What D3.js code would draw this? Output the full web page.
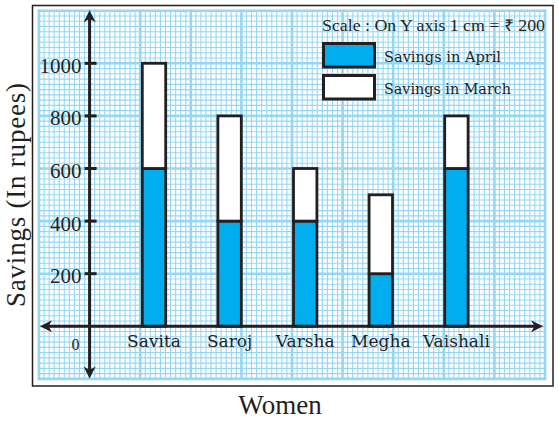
<!DOCTYPE html>
<html><head><meta charset="utf-8">
<script src="https://cdn.jsdelivr.net/npm/d3@7"></script>
<style>body{margin:0;background:#fff}svg{display:block}</style>
</head><body>
<svg id="c" width="559" height="424"></svg>
<script>
// ---- data ----
const categories = ["Savita", "Saroj", "Varsha", "Megha", "Vaishali"];
const aprilSavings = [600, 400, 400, 200, 600];
const marchSavings = [400, 400, 200, 300, 200];
const yTicks = [200, 400, 600, 800, 1000];
const seriesNames = ["Savings in April", "Savings in March"];
const scaleNote = "Scale : On Y axis 1 cm = \u20B9 200";
const xTitle = "Women";
const yTitle = "Savings (In rupees)";

// ---- setup ----
const svg = d3.select("#c");
const ink = "#231f20", blue = "#00aeef", gridC = "#93d7f5";
const y = d3.scaleLinear().domain([0, 1000]).range([326.3, 63.3]);
const gx = d3.scaleLinear().domain([0, 100]).range([39, 545]);
const xs = d3.scalePoint().domain(categories).range([154, 456.4]);
const bw = 23.4;

// outer frame
svg.append("rect").attr("x", 32.5).attr("y", 5.5).attr("width", 520.5).attr("height", 380.5)
  .attr("fill", "#fff").attr("stroke", ink).attr("stroke-width", 1.5);

// graph paper grid
const g = svg.append("g");
const hVals = d3.range(-200, 1201, 20);
const vVals = d3.range(0, 101, 1);
const yTop = y(1200), yBot = y(-200);
g.selectAll(".hm").data(hVals.filter(v => v % 200 !== 0)).join("line")
  .attr("x1", gx(0)).attr("x2", gx(100)).attr("y1", d => y(d)).attr("y2", d => y(d))
  .attr("stroke", gridC).attr("stroke-width", 1.1);
g.selectAll(".vm").data(vVals.filter(v => v % 10 !== 0)).join("line")
  .attr("y1", yTop).attr("y2", yBot).attr("x1", d => gx(d)).attr("x2", d => gx(d))
  .attr("stroke", gridC).attr("stroke-width", 1.1);
g.selectAll(".hM").data(hVals.filter(v => v % 200 === 0)).join("line")
  .attr("x1", gx(0) - 1.2).attr("x2", gx(100) + 1.2).attr("y1", d => y(d)).attr("y2", d => y(d))
  .attr("stroke", gridC).attr("stroke-width", 2.6);
g.selectAll(".vM").data(vVals.filter(v => v % 10 === 0)).join("line")
  .attr("y1", yTop - 1.2).attr("y2", yBot + 1.2).attr("x1", d => gx(d)).attr("x2", d => gx(d))
  .attr("stroke", gridC).attr("stroke-width", 2.6);

// bars
const rows = categories.map((c, i) => ({ c, a: aprilSavings[i], m: marchSavings[i] }));
svg.selectAll(".barA").data(rows).join("rect")
  .attr("x", d => xs(d.c) - bw / 2).attr("width", bw)
  .attr("y", d => y(d.a)).attr("height", d => y(0) - y(d.a))
  .attr("fill", blue).attr("stroke", ink).attr("stroke-width", 2.8);
svg.selectAll(".barM").data(rows).join("rect")
  .attr("x", d => xs(d.c) - bw / 2).attr("width", bw)
  .attr("y", d => y(d.a + d.m)).attr("height", d => y(d.a) - y(d.a + d.m))
  .attr("fill", "#fff").attr("stroke", ink).attr("stroke-width", 2.8);

// axes
const ax = gx(10);
svg.append("line").attr("x1", ax).attr("x2", ax).attr("y1", yTop + 8).attr("y2", yBot - 8)
  .attr("stroke", ink).attr("stroke-width", 3);
svg.append("line").attr("x1", gx(0) + 8).attr("x2", gx(100) - 10).attr("y1", y(0)).attr("y2", y(0))
  .attr("stroke", ink).attr("stroke-width", 3);
function arrow(tx, ty, dx, dy) {
  const L = 12, W = 6, N = 3.5;
  const px = -dy, py = dx;
  const bx = tx - dx * L, by = ty - dy * L;
  const nx = tx - dx * (L - N), ny = ty - dy * (L - N);
  return `M${tx},${ty}L${bx + px * W},${by + py * W}L${nx},${ny}L${bx - px * W},${by - py * W}Z`;
}
const arrows = [[ax, yTop - 0.5, 0, -1], [ax, yBot - 0.5, 0, 1], [gx(0) + 1, y(0), -1, 0], [gx(100) - 2, y(0), 1, 0]];
svg.selectAll(".arr").data(arrows).join("path").attr("d", d => arrow(...d)).attr("fill", ink);

// ticks
svg.selectAll(".tk").data(yTicks).join("line")
  .attr("x1", ax - 5).attr("x2", ax + 7).attr("y1", d => y(d)).attr("y2", d => y(d))
  .attr("stroke", ink).attr("stroke-width", 3);
svg.selectAll(".tl").data(yTicks).join("text")
  .attr("x", ax - 8).attr("y", d => y(d) + 9.5).attr("text-anchor", "end")
  .attr("font-family", "Liberation Serif").attr("font-size", 21).attr("fill", ink)
  .text(d => d);
svg.append("text").attr("x", 75.5).attr("y", 350).attr("text-anchor", "middle")
  .attr("font-family", "Liberation Serif").attr("font-size", 16).attr("fill", ink).text("0");

// category labels
svg.selectAll(".cl").data(categories).join("text")
  .attr("x", d => xs(d)).attr("y", 347).attr("text-anchor", "middle")
  .attr("font-family", "DejaVu Serif").attr("font-size", 17).attr("fill", ink).text(d => d);

// titles
svg.append("text").attr("transform", "translate(25,195) rotate(-90)").attr("text-anchor", "middle")
  .attr("font-family", "Liberation Serif").attr("font-size", 27).attr("fill", ink)
  .attr("textLength", 224).attr("lengthAdjust", "spacing").text(yTitle);
svg.append("text").attr("x", 280).attr("y", 414).attr("text-anchor", "middle")
  .attr("font-family", "Liberation Serif").attr("font-size", 27).attr("fill", ink).text(xTitle);

// legend
svg.append("text").attr("x", 322).attr("y", 31)
  .attr("font-family", "Liberation Serif").attr("font-size", 16).attr("fill", ink)
  .attr("textLength", 223).attr("lengthAdjust", "spacingAndGlyphs").text(scaleNote);
const legFill = [blue, "#fff"];
const legY = [43.5, 75.5];
const legLen = [117, 127];
svg.selectAll(".lb").data(seriesNames).join("rect")
  .attr("x", 323.5).attr("y", (d, i) => legY[i]).attr("width", 51).attr("height", 23.5)
  .attr("fill", (d, i) => legFill[i]).attr("stroke", ink).attr("stroke-width", 3);
svg.selectAll(".lt").data(seriesNames).join("text")
  .attr("x", 384).attr("y", (d, i) => legY[i] + 18)
  .attr("font-family", "DejaVu Serif").attr("font-size", 15).attr("fill", ink)
  .attr("textLength", (d, i) => legLen[i]).attr("lengthAdjust", "spacingAndGlyphs").text(d => d);
</script>
</body></html>
